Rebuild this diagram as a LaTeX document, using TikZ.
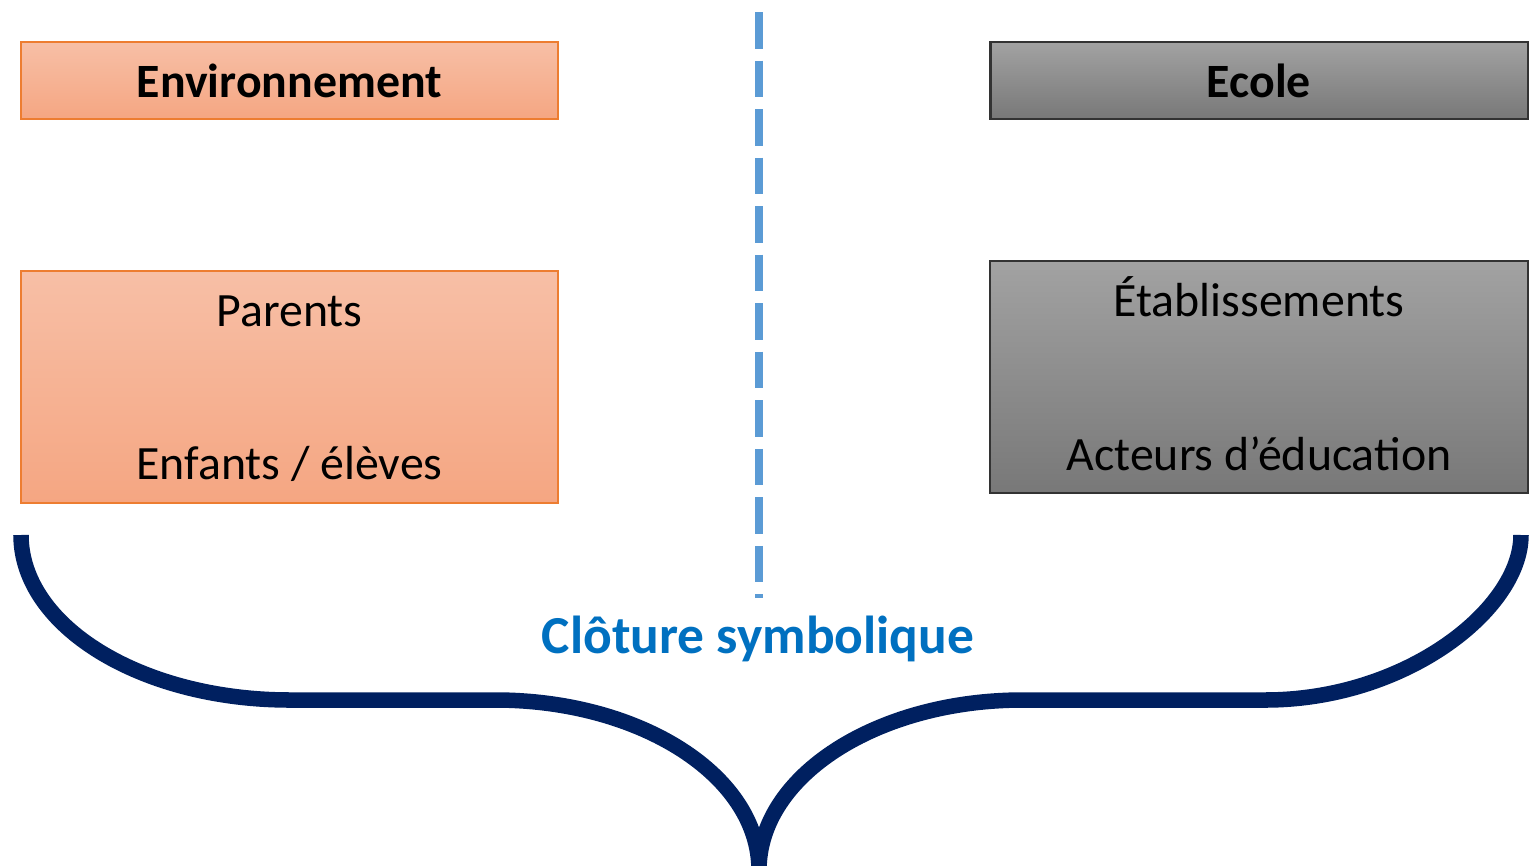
\documentclass[tikz,border=0pt]{standalone}
\usepackage{fontspec}
\setmainfont{Carlito}
\usetikzlibrary{shapes.geometric, arrows, positioning}
\definecolor{envtop}{RGB}{247,191,166}
\definecolor{envbot}{RGB}{245,166,130}
\definecolor{envline}{RGB}{237,125,49}
\definecolor{ecotop}{RGB}{162,162,162}
\definecolor{ecobot}{RGB}{120,120,120}
\definecolor{fenceblue}{RGB}{91,155,213}
\definecolor{bracenavy}{RGB}{0,32,96}
\definecolor{clotureblue}{RGB}{0,112,192}
\tikzstyle{envbox} = [rectangle, draw=envline, line width=0.7pt, top color=envtop, bottom color=envbot,
    minimum width=5.37cm, inner sep=0pt]
\tikzstyle{ecobox} = [rectangle, draw=black!80, line width=0.7pt, top color=ecotop, bottom color=ecobot,
    minimum width=5.38cm, inner sep=0pt]
\tikzstyle{lbl} = [inner sep=0pt, anchor=base, font=\fontsize{13.6}{16}\selectfont]
\tikzstyle{fence} = [draw=fenceblue, line width=0.08cm, dash pattern=on 0.365cm off 0.12cm]
\tikzstyle{brace} = [draw=bracenavy, line width=0.155cm]

\begin{document}
\begin{tikzpicture}[x=0.01cm, y=-0.01cm, node distance=9.695cm]
    \useasboundingbox (0,0) rectangle (1529,866);
    % Place boxes
    \node [envbox, minimum height=0.77cm] (envhead) at (289.5,80.5) {};
    \node [ecobox, minimum height=0.77cm, right of=envhead] (ecohead) {};
    \node [envbox, minimum height=2.32cm] (envbody) at (289.5,387) {};
    \node [ecobox, minimum height=2.32cm] (ecobody) at (1259,377) {};
    % Place texts
    \node [lbl, font=\fontsize{13.6}{16}\selectfont\bfseries] (envtitle) at (289.5,97) {Environnement};
    \node [lbl, font=\fontsize{13.6}{16}\selectfont\bfseries] (ecotitle) at (1259,97) {Ecole};
    \node [lbl] (parents) at (289.5,326) {Parents};
    \node [lbl] (eleves) at (289.5,479) {Enfants / élèves};
    \node [lbl] (etab) at (1259,316) {Établissements};
    \node [lbl] (acteurs) at (1259,470) {Acteurs d’éducation};
    \node [lbl, font=\fontsize{15.2}{18}\selectfont\bfseries, text=clotureblue] (cloture) at (758,653) {Clôture symbolique};
    % Draw fence and brace
    \coordinate (fencetop) at (759,12);
    \coordinate (fencebot) at (759,598);
    \path [fence] (fencetop) -- (fencebot);
    \path [brace] (21,535) .. controls (21,626) and (141,700) .. (290,700) -- (495,700)
        .. controls (641,700) and (759,776) .. (759,870)
        .. controls (759,776) and (877,700) .. (1023,700) -- (1265,700)
        .. controls (1406,700) and (1521,609) .. (1521,535);
\end{tikzpicture}
\end{document}
